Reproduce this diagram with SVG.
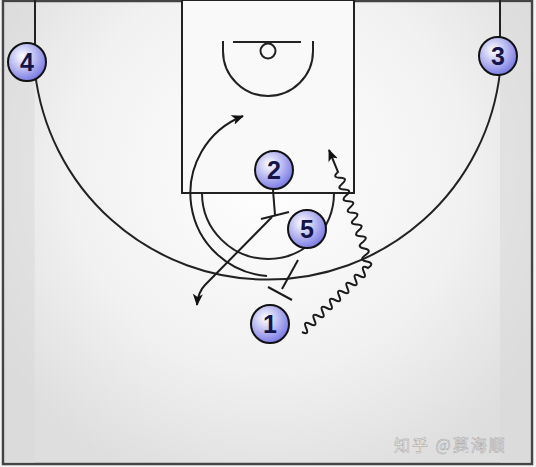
<svg xmlns="http://www.w3.org/2000/svg" width="536" height="467" viewBox="0 0 536 467">
<style>
.line{fill:none;stroke:#1c1c1c;stroke-width:2}
.court{fill:none;stroke:#222;stroke-width:2}
.pc{fill:url(#pg);stroke:#111;stroke-width:2}
.pt{font-family:"Liberation Sans",Arial,sans-serif;font-weight:bold;font-size:25px;fill:#15154a;text-anchor:middle}
.wm{font-family:"Noto Sans CJK SC","Liberation Sans",sans-serif;font-size:16px;fill:#f8f8f8;stroke:#a0a0a0;stroke-width:0.5;letter-spacing:2px}
</style>
<defs>
<radialGradient id="bg" cx="268" cy="170" r="330" gradientUnits="userSpaceOnUse">
<stop offset="0" stop-color="#ffffff"/>
<stop offset="0.6" stop-color="#f1f1f1"/>
<stop offset="1" stop-color="#dedede"/>
</radialGradient>
<radialGradient id="pg" cx="0.38" cy="0.35" r="0.7">
<stop offset="0" stop-color="#ffffff"/>
<stop offset="1" stop-color="#7474e4"/>
</radialGradient>
<marker id="ah" viewBox="0 0 12 10" refX="11" refY="5" markerWidth="12" markerHeight="10" markerUnits="userSpaceOnUse" orient="auto">
<path d="M0,0 L12,5 L0,10 L3,5 z" fill="#111"/>
</marker>
</defs>
<rect x="0" y="0" width="536" height="467" fill="#f4f4f4"/>
<g id="court">
<rect x="3" y="1" width="529" height="463" fill="url(#bg)" stroke="#444" stroke-width="2.5"/>
<rect x="4.5" y="2" width="30" height="461" fill="#d8d8d8" opacity="0.5"/>
<rect x="500" y="2" width="30.5" height="461" fill="#d8d8d8" opacity="0.5"/>
<rect x="182" y="0" width="172" height="193" fill="#f9f9f9" stroke="#222" stroke-width="2"/>
<path class="court" d="M35,0 V72 A234,234 0 0,0 500,72 V0"/>
<path class="court" d="M202,193 A66,66 0 0,0 334,193"/>
<line class="court" x1="233" y1="42" x2="301" y2="42"/>
<circle class="court" cx="268" cy="51" r="7.5"/>
<path class="court" d="M223,41 V51 A45,45 0 0,0 313,51 V41"/>
</g>
<g id="connectors">
<path class="line" d="M267,276 A83,83 0 0,1 243,116" marker-end="url(#ah)"/>
<path class="line" d="M273,190 L275,215"/>
<path class="line" d="M261,219 L289,212"/>
<path class="line" d="M298,260 L282,289"/>
<path class="line" d="M268,287 L292,300"/>
<path class="line" d="M272,217 L205,285 Q198,292 197,305" marker-end="url(#ah)"/>
<path class="line" stroke-width="1.8" d="M302,332 q7.63,3.74 4.125,-4 t4.125,-4 t4.125,-4 t4.125,-4 t4.125,-4 t4.125,-4 t4.125,-4 t4.125,-4 t4.125,-4 t4.125,-4 t4.125,-4 t4.125,-4 t4.125,-4 t4.125,-4 t4.125,-4 t4.125,-4 q7.23,-4.76 -1.25,-6.5 t-1.25,-6.5 t-1.25,-6.5 t-1.25,-6.5 q6.49,-5.6 -2.083,-5.833 t-2.083,-5.833 t-2.083,-5.833 t-2.083,-5.833 t-2.083,-5.833 t-2.083,-5.833 t-2.083,-5.833 t-2.083,-5.833 t-2.083,-5.833 t-2.083,-5.833 t-2.083,-5.833 t-2.083,-5.833 L329,150" marker-end="url(#ah)"/>
</g>
<g id="p4"><circle class="pc" cx="27" cy="62" r="19"/><text class="pt" x="27" y="71">4</text></g>
<g id="p3"><circle class="pc" cx="498" cy="56" r="19"/><text class="pt" x="498" y="65">3</text></g>
<g id="p2"><circle class="pc" cx="274" cy="170" r="19"/><text class="pt" x="274" y="179">2</text></g>
<g id="p5"><circle class="pc" cx="307" cy="229" r="19"/><text class="pt" x="307" y="238">5</text></g>
<g id="p1"><circle class="pc" cx="270" cy="324" r="19"/><text class="pt" x="270" y="333">1</text></g>
<text class="wm" x="394" y="451">知乎 @莫海顺</text>
</svg>
